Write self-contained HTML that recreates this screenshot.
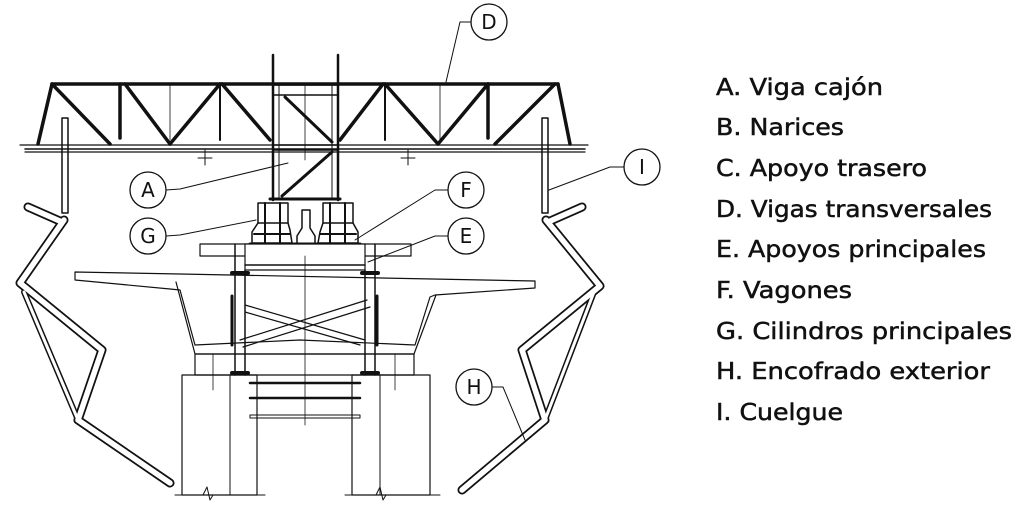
<!DOCTYPE html>
<html><head><meta charset="utf-8"><style>
html,body{margin:0;padding:0;background:#fff}
svg{display:block}
text{font-family:"DejaVu Sans","Liberation Sans",sans-serif}
</style></head><body>
<svg width="1031" height="522" viewBox="0 0 1031 522" xmlns="http://www.w3.org/2000/svg">
<g fill="none" stroke="#111" stroke-linecap="round" stroke-linejoin="round">
<line x1="52" y1="84" x2="558" y2="84" stroke-width="3.5"/>
<line x1="20" y1="145" x2="588" y2="145" stroke-width="1.2"/>
<line x1="25" y1="149" x2="585" y2="149" stroke-width="1.5"/>
<line x1="25" y1="152" x2="585" y2="152" stroke-width="1.2"/>
<g stroke-width="3.5">
<line x1="52" y1="84" x2="38" y2="144"/>
<line x1="52" y1="84" x2="110" y2="144"/>
<line x1="120" y1="84" x2="120" y2="138"/>
<line x1="125" y1="84" x2="170" y2="144"/>
<line x1="220" y1="84" x2="170" y2="144"/>
<line x1="222" y1="84" x2="270" y2="140"/>
<line x1="220" y1="84" x2="220" y2="140" stroke-width="2"/>
<line x1="383" y1="84" x2="340" y2="140"/>
<line x1="385" y1="84" x2="438" y2="144"/>
<line x1="488" y1="84" x2="438" y2="144"/>
<line x1="488" y1="84" x2="488" y2="138"/>
<line x1="555" y1="84" x2="495" y2="144"/>
<line x1="558" y1="84" x2="570" y2="144"/>
<line x1="385" y1="84" x2="385" y2="140" stroke-width="2"/>
</g>
<line x1="170" y1="84" x2="170" y2="140" stroke-width="0.8"/>
<line x1="440" y1="84" x2="440" y2="140" stroke-width="0.8"/>
<line x1="205" y1="150" x2="205" y2="165" stroke-width="1"/><line x1="198" y1="158" x2="212" y2="158"/>
<line x1="408" y1="150" x2="408" y2="165" stroke-width="1"/><line x1="401" y1="158" x2="415" y2="158"/>
<line x1="273" y1="55" x2="273" y2="200" stroke-width="2.5"/>
<line x1="338" y1="55" x2="338" y2="200" stroke-width="2.5"/>
<line x1="279" y1="85" x2="279" y2="198" stroke-width="1"/>
<line x1="332" y1="85" x2="332" y2="198" stroke-width="1"/>
<rect x="273" y="85" width="65" height="10" stroke-width="1.5"/>
<line x1="273" y1="145" x2="338" y2="145" stroke-width="1.5"/>
<line x1="273" y1="150" x2="338" y2="150" stroke-width="1.5"/>
<line x1="285" y1="97" x2="332" y2="142" stroke-width="3"/>
<line x1="332" y1="152" x2="282" y2="196" stroke-width="3"/>
<line x1="305" y1="85" x2="305" y2="160" stroke-width="0.8"/>
<line x1="270" y1="199" x2="340" y2="199" stroke-width="3"/>
<rect x="258" y="203" width="30" height="20" stroke-width="1.5"/>
<rect x="323" y="203" width="30" height="20" stroke-width="1.5"/>
<path d="M258 223 L252 232 L252 243 L292 243 L290 230 L288 223" stroke-width="1.5"/>
<path d="M323 223 L320 232 L318 243 L358 243 L358 232 L353 223" stroke-width="1.5"/>
<line x1="254" y1="234" x2="290" y2="234" stroke-width="2"/>
<line x1="320" y1="234" x2="356" y2="234" stroke-width="2"/>
<line x1="265" y1="203" x2="265" y2="243" stroke-width="2"/><line x1="280" y1="203" x2="280" y2="243" stroke-width="2"/>
<line x1="330" y1="203" x2="330" y2="243" stroke-width="2"/><line x1="345" y1="203" x2="345" y2="243" stroke-width="2"/>
<path d="M302 210 L310 210 L310 228 L315 236 L315 244 L297 244 L297 236 L302 228 Z" stroke-width="1.5"/>
<line x1="250" y1="244" x2="360" y2="244" stroke-width="3"/>
<rect x="200" y="244" width="211" height="12" stroke-width="1.2"/>
<rect x="245" y="244" width="120" height="26" fill="#fff" stroke-width="1.2"/>
<line x1="245" y1="265" x2="365" y2="265" stroke-width="1.5"/>
<line x1="235" y1="244" x2="235" y2="375" stroke-width="1.5"/><line x1="245" y1="270" x2="245" y2="375" stroke-width="1.5"/>
<line x1="365" y1="270" x2="365" y2="375" stroke-width="1.5"/><line x1="375" y1="244" x2="375" y2="375" stroke-width="1.5"/>
<line x1="232" y1="273" x2="248" y2="273" stroke-width="4"/><line x1="362" y1="273" x2="378" y2="273" stroke-width="4"/>
<line x1="232" y1="373" x2="248" y2="373" stroke-width="4"/><line x1="362" y1="373" x2="378" y2="373" stroke-width="4"/>
<line x1="232" y1="296" x2="232" y2="345" stroke-width="3"/><line x1="377" y1="296" x2="377" y2="345" stroke-width="3"/>
<path d="M245 305 L365 340 M245 312 L360 345" stroke-width="1.2"/>
<path d="M240 340 L367 300 M243 347 L370 307" stroke-width="1.2"/>
<path d="M75 272 L180 274 L535 281 L535 288 L435 295 L430 297 L415 345 L300 340 L195 345 L180 290 L170 289 L75 280 Z" stroke-width="1.2"/>
<path d="M176 282 L195 354 L414 354 L436 295" stroke-width="1.2"/>
<line x1="305" y1="256" x2="305" y2="425" stroke-width="0.8"/>
<rect x="195" y="354" width="219" height="21" stroke-width="1.2"/>
<line x1="213" y1="354" x2="213" y2="390" stroke-width="0.8"/>
<line x1="395" y1="354" x2="395" y2="390" stroke-width="0.8"/>
<rect x="182" y="375" width="75" height="120" stroke-width="1.2"/>
<rect x="352" y="375" width="78" height="120" stroke-width="1.2"/>
<line x1="230" y1="375" x2="230" y2="495" stroke-width="1"/>
<line x1="380" y1="375" x2="380" y2="495" stroke-width="1"/>
<line x1="175" y1="495" x2="265" y2="495" stroke-width="1"/>
<line x1="345" y1="495" x2="440" y2="495" stroke-width="1"/>
<path d="M203 495 L207 487 L210 500 L213 495" stroke-width="1"/>
<path d="M376 495 L380 487 L383 500 L386 495" stroke-width="1"/>
<line x1="250" y1="383" x2="360" y2="383" stroke-width="2.5"/>
<line x1="250" y1="398" x2="360" y2="398" stroke-width="2.5"/>
<rect x="250" y="415" width="110" height="3" stroke-width="1"/>
<rect x="62" y="118" width="6" height="95" stroke-width="1.5"/>
<rect x="542" y="118" width="6" height="95" stroke-width="1.5"/>
<g stroke-width="9"><polyline points="28,207 62,222"/><polyline points="64,220 20,283 102,350 78,420 170,483"/><line x1="24" y1="292" x2="78" y2="420" stroke-width="6"/></g>
<g stroke="#fff" stroke-width="5.5"><polyline points="28,207 62,222"/><polyline points="64,220 20,283 102,350 78,420 170,483"/><line x1="24" y1="292" x2="78" y2="420" stroke-width="3"/></g>
<g stroke-width="9"><polyline points="582,207 548,222"/><polyline points="546,220 600,286 522,350 545,420 462,490"/><line x1="594" y1="292" x2="545" y2="420" stroke-width="6"/></g>
<g stroke="#fff" stroke-width="5.5"><polyline points="582,207 548,222"/><polyline points="546,220 600,286 522,350 545,420 462,490"/><line x1="594" y1="292" x2="545" y2="420" stroke-width="3"/></g>
<g stroke-width="1.3" fill="#fff">
<circle cx="489" cy="22" r="18"/><circle cx="148" cy="190" r="18"/><circle cx="148" cy="236" r="18"/>
<circle cx="466" cy="190" r="18"/><circle cx="466" cy="236" r="18"/><circle cx="642" cy="167" r="18"/><circle cx="474" cy="387" r="18"/>
</g>
<g stroke-width="1">
<path d="M471 22 L460 22 L446 82"/>
<path d="M166 190 L180 189 L288 163"/>
<path d="M166 236 L180 235 L256 220"/>
<path d="M448 190 L435 190 L355 240"/>
<path d="M448 236 L435 236 L368 262"/>
<path d="M624 167 L610 167 L549 190"/>
<path d="M492 387 L503 387 L525 440"/>
</g>
</g>
<g font-size="20" text-anchor="middle" fill="#111" font-family="Liberation Sans,sans-serif">
<text x="489" y="29">D</text><text x="148" y="197">A</text><text x="148" y="243">G</text>
<text x="466" y="197">F</text><text x="466" y="243">E</text><text x="642" y="174">I</text><text x="474" y="394">H</text>
</g>
<g font-size="23" fill="#111" stroke="#111" stroke-width="0.5">
<text x="716" y="95" textLength="167" lengthAdjust="spacingAndGlyphs">A. Viga cajón</text>
<text x="716" y="135" textLength="128" lengthAdjust="spacingAndGlyphs">B. Narices</text>
<text x="716" y="176" textLength="211" lengthAdjust="spacingAndGlyphs">C. Apoyo trasero</text>
<text x="716" y="217" textLength="276" lengthAdjust="spacingAndGlyphs">D. Vigas transversales</text>
<text x="716" y="257" textLength="270" lengthAdjust="spacingAndGlyphs">E. Apoyos principales</text>
<text x="716" y="298" textLength="136" lengthAdjust="spacingAndGlyphs">F. Vagones</text>
<text x="716" y="339" textLength="296" lengthAdjust="spacingAndGlyphs">G. Cilindros principales</text>
<text x="716" y="379" textLength="274" lengthAdjust="spacingAndGlyphs">H. Encofrado exterior</text>
<text x="716" y="420" textLength="127" lengthAdjust="spacingAndGlyphs">I. Cuelgue</text>
</g>
</svg>
</body></html>
